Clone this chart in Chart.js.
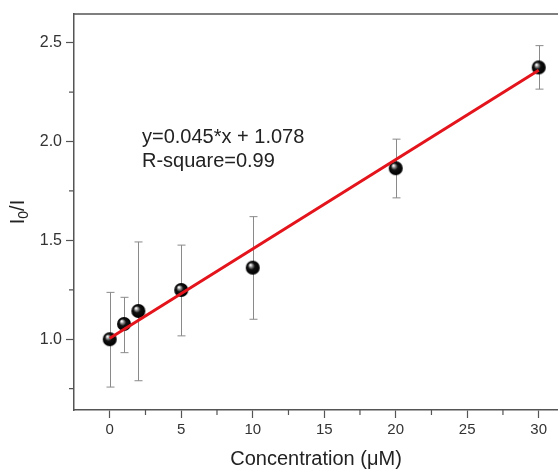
<!DOCTYPE html>
<html>
<head>
<meta charset="utf-8">
<script src="https://cdn.jsdelivr.net/npm/chart.js@4.4.0/dist/chart.umd.min.js"></script>
<style>
  html, body { margin: 0; padding: 0; background: #fff; }
  #wrap { width: 558px; height: 473px; }
</style>
</head>
<body>
<div id="wrap"><canvas id="calChart"></canvas></div>
<script>
// concentration (uM) and measured I0/I
const conc = [0, 1, 2, 5, 10, 20, 30];
const ratio = [1.0, 1.077, 1.143, 1.249, 1.362, 1.865, 2.375];
const errLow = [0.758, 0.932, 0.79, 1.017, 1.101, 1.715, 2.265];
const errHigh = [1.237, 1.212, 1.492, 1.476, 1.62, 2.012, 2.485];

// fitted line as drawn
const fitX = [0, 30];
const fitY = [1.005, 2.36];

const xMajor = [0, 5, 10, 15, 20, 25, 30];
const xMinor = [2.5, 7.5, 12.5, 17.5, 22.5, 27.5];
const yMajor = [1.0, 1.5, 2.0, 2.5];
const yMinor = [0.75, 1.25, 1.75, 2.25];

const fitText = ['y=0.045*x + 1.078', 'R-square=0.99'];

const FONT = '"Liberation Sans", Arial, sans-serif';
const AXIS = '#555';

// shiny black ball for the markers
function makeBall(r) {
  const c = document.createElement('canvas');
  c.width = c.height = r * 2 + 2;
  const g = c.getContext('2d');
  const cx = r + 1, cy = r + 1;
  const grad = g.createRadialGradient(cx - r * 0.35, cy - r * 0.4, 0.5, cx, cy, r);
  grad.addColorStop(0, '#ffffff');
  grad.addColorStop(0.18, '#9a9a9a');
  grad.addColorStop(0.45, '#111');
  grad.addColorStop(1, '#000');
  g.fillStyle = grad;
  g.beginPath();
  g.arc(cx, cy, r, 0, Math.PI * 2);
  g.fill();
  return c;
}

const errorBars = {
  id: 'errorBars',
  beforeDatasetsDraw(chart) {
    const { ctx, scales: { x, y } } = chart;
    ctx.save();
    ctx.strokeStyle = '#8a8a8a';
    ctx.lineWidth = 1;
    conc.forEach((c, i) => {
      const px = Math.round(x.getPixelForValue(c)) + 0.5;
      const top = y.getPixelForValue(errHigh[i]);
      const bot = y.getPixelForValue(errLow[i]);
      ctx.beginPath();
      ctx.moveTo(px, top); ctx.lineTo(px, bot);
      ctx.moveTo(px - 4, top); ctx.lineTo(px + 4, top);
      ctx.moveTo(px - 4, bot); ctx.lineTo(px + 4, bot);
      ctx.stroke();
    });
    ctx.restore();
  }
};

const frameExtras = {
  id: 'frameExtras',
  afterDraw(chart) {
    const { ctx, chartArea: a, scales: { x, y } } = chart;
    ctx.save();
    ctx.strokeStyle = AXIS;
    ctx.lineWidth = 1.5;
    // top frame line
    ctx.beginPath();
    ctx.moveTo(a.left, a.top);
    ctx.lineTo(a.right, a.top);
    ctx.stroke();
    // minor ticks
    ctx.lineWidth = 1.2;
    ctx.beginPath();
    xMinor.forEach(v => {
      const px = x.getPixelForValue(v);
      ctx.moveTo(px, a.bottom); ctx.lineTo(px, a.bottom + 5);
    });
    yMinor.forEach(v => {
      const py = y.getPixelForValue(v);
      ctx.moveTo(a.left, py); ctx.lineTo(a.left - 5, py);
    });
    ctx.stroke();

    // y title with subscript
    ctx.fillStyle = '#222';
    ctx.translate(18, (a.top + a.bottom) / 2);
    ctx.rotate(-Math.PI / 2);
    ctx.textBaseline = 'middle';
    ctx.font = '20px ' + FONT;
    const w1 = ctx.measureText('I').width;
    ctx.font = '14px ' + FONT;
    const w0 = ctx.measureText('0').width;
    ctx.font = '20px ' + FONT;
    const w2 = ctx.measureText('/I').width;
    let sx = -(w1 + w0 + w2) / 2;
    ctx.fillText('I', sx, 0); sx += w1;
    ctx.font = '14px ' + FONT;
    ctx.fillText('0', sx, 6); sx += w0;
    ctx.font = '20px ' + FONT;
    ctx.fillText('/I', sx, 0);
    ctx.restore();

    // fit equation
    ctx.save();
    ctx.fillStyle = '#222';
    ctx.font = '20px ' + FONT;
    ctx.textBaseline = 'middle';
    fitText.forEach((t, i) => ctx.fillText(t, 142, 137 + i * 24.5));
    ctx.restore();
  }
};

const ctx = document.getElementById('calChart');
new Chart(ctx, {
  type: 'scatter',
  data: {
    datasets: [
      {
        type: 'line',
        label: 'fit',
        data: fitX.map((v, i) => ({ x: v, y: fitY[i] })),
        borderColor: '#e3141b',
        borderWidth: 3,
        pointRadius: 0,
        order: 0
      },
      {
        label: 'data',
        data: conc.map((v, i) => ({ x: v, y: ratio[i] })),
        pointStyle: makeBall(7),
        pointRadius: 7,
        order: 1
      }
    ]
  },
  plugins: [errorBars, frameExtras],
  options: {
    responsive: true,
    maintainAspectRatio: false,
    animation: false,
    layout: { autoPadding: false, padding: { top: 14, right: 0, left: 0, bottom: 0 } },
    plugins: { legend: { display: false }, tooltip: { enabled: false } },
    scales: {
      x: {
        type: 'linear',
        min: -2.5,
        max: 31.35,
        afterBuildTicks: (s) => { s.ticks = xMajor.map(v => ({ value: v })); },
        afterFit: (s) => { s.height = 63; s.paddingLeft = 0; s.paddingRight = 0; },
        ticks: { color: '#333', font: { family: FONT, size: 15 }, padding: 3, maxRotation: 0 },
        grid: { drawOnChartArea: false, drawTicks: true, tickLength: 8, tickColor: AXIS, tickWidth: 1.2 },
        border: { display: true, color: AXIS, width: 1.5 },
        title: {
          display: true,
          text: 'Concentration (μM)',
          color: '#222',
          font: { family: FONT, size: 20 },
          padding: { top: 0, bottom: 2 }
        }
      },
      y: {
        type: 'linear',
        min: 0.642,
        max: 2.645,
        afterBuildTicks: (s) => { s.ticks = yMajor.map(v => ({ value: v })); },
        afterFit: (s) => { s.width = 74; s.paddingTop = 0; s.paddingBottom = 0; },
        ticks: {
          color: '#333',
          font: { family: FONT, size: 16 },
          padding: 4,
          callback: (v) => v.toFixed(1)
        },
        grid: { drawOnChartArea: false, drawTicks: true, tickLength: 8, tickColor: AXIS, tickWidth: 1.2 },
        border: { display: true, color: AXIS, width: 1.5 }
      }
    }
  }
});
</script>
</body>
</html>
